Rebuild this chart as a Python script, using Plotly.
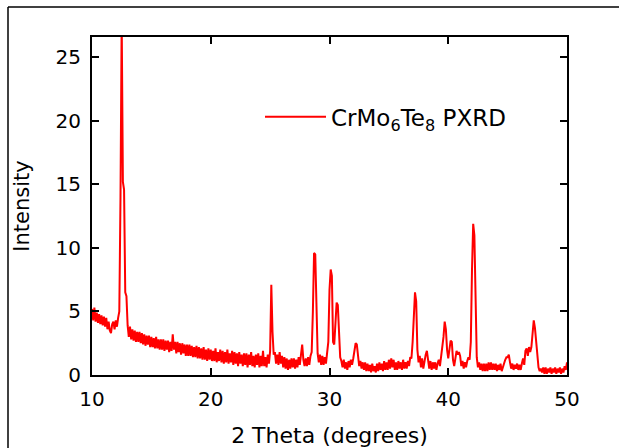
import numpy as np
import plotly.graph_objects as go

# 2-theta sampling grid (degrees), 0.1 degree steps from 10 to 50
two_theta = np.linspace(10, 50, 401)

# Intensity, one row per degree (10.0 ... 49.9), then 50.0
intensity = [
    5.2, 4.3, 5.3, 4.2, 4.9, 4.1, 4.8, 4.0, 4.7, 3.9,    # 10
    4.6, 3.8, 4.5, 3.6, 4.2, 3.5, 3.3, 4.0, 4.2, 3.6,    # 11
    4.3, 3.8, 4.5, 5.0, 14.0, 28.0, 15.2, 14.6, 6.5, 6.2,  # 12
    3.9, 3.0, 3.8, 2.8, 3.6, 2.7, 3.5, 2.6, 3.4, 2.6,    # 13
    3.4, 2.5, 3.3, 2.4, 3.2, 2.3, 3.1, 2.4, 3.1, 2.2,    # 14
    3.0, 2.2, 2.9, 2.1, 3.0, 2.1, 2.8, 2.0, 2.8, 2.0,    # 15
    2.8, 1.9, 2.7, 2.0, 2.7, 1.8, 2.6, 1.9, 3.2, 2.0,    # 16
    2.6, 1.7, 2.6, 1.8, 2.5, 1.6, 2.5, 1.7, 2.4, 1.5,    # 17
    2.4, 1.5, 2.4, 1.5, 2.3, 1.4, 2.2, 1.4, 2.3, 1.3,    # 18
    2.2, 1.3, 2.1, 1.2, 2.2, 1.2, 2.0, 1.1, 2.1, 1.2,    # 19
    2.0, 1.1, 1.9, 1.1, 2.1, 1.0, 1.8, 1.1, 2.0, 1.0,    # 20
    1.9, 0.9, 1.8, 1.0, 2.0, 0.9, 1.7, 1.0, 1.9, 0.8,    # 21
    1.8, 0.9, 1.7, 0.7, 1.8, 0.9, 1.6, 0.7, 1.7, 0.8,    # 22
    1.7, 0.6, 1.6, 0.8, 1.8, 0.7, 1.5, 0.6, 1.6, 0.8,    # 23
    1.7, 0.6, 1.5, 0.7, 1.9, 0.7, 1.4, 0.6, 1.6, 0.9,    # 24
    1.9, 7.1, 3.4, 1.6, 1.8, 0.9, 1.6, 0.8, 1.8, 0.9,    # 25
    1.5, 0.6, 1.4, 0.5, 1.3, 0.4, 1.2, 0.5, 1.3, 0.6,    # 26
    1.3, 0.5, 1.2, 0.6, 1.4, 0.8, 1.6, 2.4, 1.2, 0.7,    # 27
    1.3, 0.7, 1.4, 0.8, 1.5, 1.8, 5.0, 9.6, 9.5, 4.6,    # 28
    1.7, 1.0, 1.6, 0.8, 1.5, 0.8, 1.4, 0.9, 1.6, 2.6,    # 29
    6.7, 8.3, 7.8, 2.6, 2.4, 4.5, 5.7, 5.5, 2.7, 1.4,    # 30
    1.1, 0.6, 1.2, 0.5, 1.0, 0.4, 1.1, 0.6, 1.2, 0.8,    # 31
    1.3, 2.0, 2.5, 2.4, 1.6, 0.7, 1.1, 0.5, 1.0, 0.4,    # 32
    1.0, 0.3, 0.9, 0.3, 0.8, 0.2, 0.9, 0.3, 0.7, 0.2,    # 33
    0.9, 0.3, 1.0, 0.4, 0.9, 0.3, 1.1, 0.4, 1.0, 0.4,    # 34
    1.2, 0.5, 1.3, 0.6, 1.2, 0.4, 1.0, 0.4, 1.1, 0.5,    # 35
    1.0, 0.4, 1.2, 0.5, 1.0, 0.5, 1.1, 0.7, 1.4, 1.3,    # 36
    2.6, 4.9, 6.5, 5.8, 2.0, 1.0, 1.5, 0.6, 1.3, 0.5,    # 37
    1.3, 1.6, 1.9, 0.9, 0.5, 1.1, 0.4, 1.0, 0.5, 1.0,    # 38
    0.4, 0.9, 1.2, 0.7, 1.4, 2.5, 3.0, 4.2, 3.6, 2.0,    # 39
    1.3, 2.0, 2.7, 2.6, 1.2, 0.7, 1.3, 1.9, 1.6, 1.8,    # 40
    1.5, 0.7, 1.1, 0.5, 1.0, 0.6, 1.1, 1.4, 1.2, 2.6,    # 41
    8.3, 11.9, 11.0, 4.6, 1.4, 0.6, 1.0, 0.4, 0.9, 0.3,  # 42
    0.9, 0.3, 0.9, 0.3, 1.0, 0.4, 1.0, 0.4, 0.9, 0.4,    # 43
    0.9, 0.3, 0.8, 0.4, 0.9, 0.3, 0.7, 0.9, 1.2, 1.4,    # 44
    1.4, 1.6, 1.0, 0.5, 0.9, 0.4, 0.8, 0.5, 0.9, 0.4,    # 45
    0.8, 0.4, 0.9, 1.3, 0.8, 1.9, 2.1, 1.5, 2.2, 1.8,    # 46
    2.2, 3.1, 4.3, 3.7, 2.5, 1.4, 0.6, 0.3, 0.5, 0.2,    # 47
    0.6, 0.1, 0.6, 0.1, 0.5, 0.2, 0.6, 0.1, 0.5, 0.2,    # 48
    0.6, 0.1, 0.5, 0.2, 0.6, 0.1, 0.5, 0.2, 0.7, 0.4,    # 49
    1.0,                                                 # 50
]

x_ticks = [10, 20, 30, 40, 50]
y_ticks = [0, 5, 10, 15, 20, 25]
series_name = "CrMo<sub>6</sub>Te<sub>8</sub> PXRD"

FONT = "DejaVu Sans, Liberation Sans, Arial, sans-serif"

W, H = 619, 448
L, R, T, B = 92, 52, 37, 73
PW, PH = W - L - R, H - T - B

fig = go.Figure()
fig.add_trace(go.Scatter(
    x=two_theta, y=intensity, mode="lines", name=series_name,
    line=dict(color="#ff0000", width=2),
))

fig.update_layout(
    width=W, height=H,
    margin=dict(l=L, r=R, t=T, b=B, autoexpand=False),
    paper_bgcolor="white", plot_bgcolor="white",
    font=dict(family=FONT, size=20, color="black"),
    showlegend=True,
    legend=dict(
        x=0.3537, y=0.764, xanchor="left", yanchor="middle",
        bgcolor="rgba(0,0,0,0)", borderwidth=0,
        font=dict(family=FONT, size=23, color="black"),
        itemwidth=61,
    ),
    xaxis=dict(
        range=[10, 50], tickvals=x_ticks, ticktext=[str(v) for v in x_ticks],
        ticks="inside", ticklen=7, tickwidth=2, tickcolor="black",
        showline=True, linewidth=2, linecolor="black", mirror="ticks",
        showgrid=False, zeroline=False, automargin=False,
        tickfont=dict(family=FONT, size=20, color="black"),
        ticklabelstandoff=5,
        title=dict(text="2 Theta (degrees)", font=dict(family=FONT, size=22, color="black"), standoff=20),
    ),
    yaxis=dict(
        range=[0, 26.6], tickvals=y_ticks, ticktext=[str(v) for v in y_ticks],
        ticks="inside", ticklen=7, tickwidth=2, tickcolor="black",
        showline=True, linewidth=2, linecolor="black", mirror="ticks",
        showgrid=False, zeroline=False, automargin=False,
        tickfont=dict(family=FONT, size=20, color="black"),
        ticklabelstandoff=5,
        title=dict(text="Intensity", font=dict(family=FONT, size=21, color="black"), standoff=20),
    ),
    shapes=[
        dict(type="line", xref="paper", yref="paper",
             x0=(8 - L) / PW, x1=(8 - L) / PW, y0=1 + (T - 7) / PH, y1=-0.5,
             line=dict(color="black", width=1.5)),
        dict(type="line", xref="paper", yref="paper",
             x0=(8 - L) / PW, x1=1.5, y0=1 + (T - 7) / PH, y1=1 + (T - 7) / PH,
             line=dict(color="black", width=1.5)),
    ],
)

# remove the default page margin so the 619x448 figure fills the window exactly
fig.write_html(
    "out.html",
    config={"displayModeBar": False},
    post_script="document.body.style.margin='0';document.body.style.overflow='hidden';",
)
